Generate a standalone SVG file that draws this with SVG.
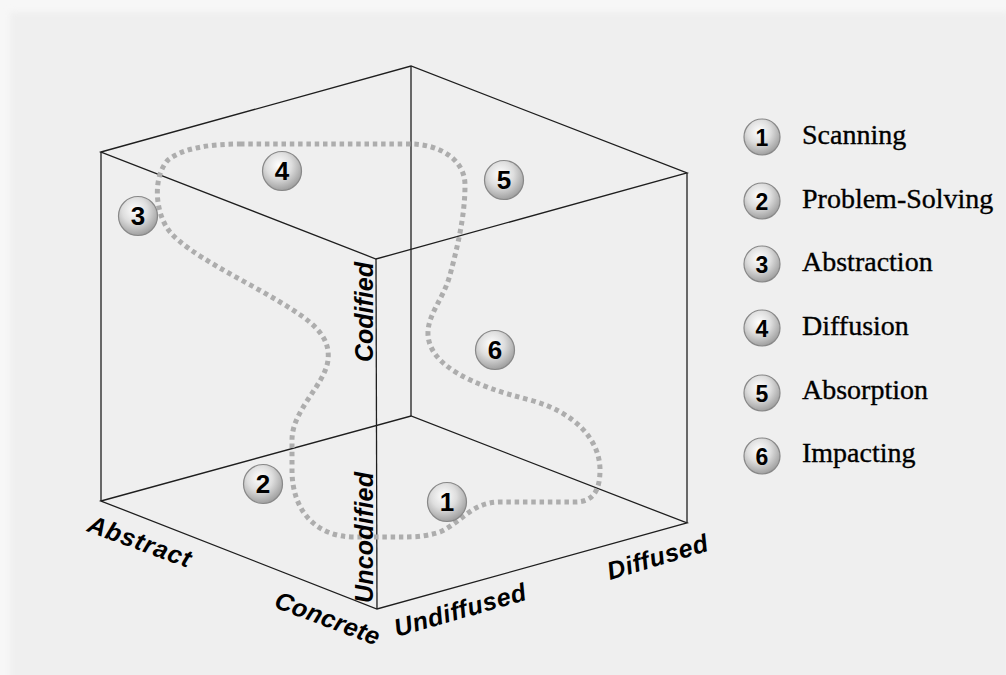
<svg xmlns="http://www.w3.org/2000/svg" width="1006" height="675" viewBox="0 0 1006 675">
  <defs>
    <radialGradient id="ball" cx="0.42" cy="0.35" r="0.65">
      <stop offset="0" stop-color="#ffffff"/>
      <stop offset="0.5" stop-color="#dedede"/>
      <stop offset="1" stop-color="#a0a0a0"/>
    </radialGradient>
    <filter id="soft" x="-5%" y="-5%" width="110%" height="110%">
      <feGaussianBlur stdDeviation="3"/>
    </filter>
  </defs>
  <style>
    .edge { stroke: #1e1e1e; stroke-width: 1.3; fill: none; }
    .loop { stroke: #adadad; stroke-width: 5; fill: none; stroke-dasharray: 4.5 3.8; }
    .ball { fill: url(#ball); stroke: #888888; stroke-width: 1.2; }
    .num { font-family: "Liberation Sans", Arial, sans-serif; font-weight: bold; fill: #000; text-anchor: middle; }
    .axis { font-family: "Liberation Sans", Arial, sans-serif; font-weight: bold; font-style: italic; font-size: 25px; fill: #000; }
    .legend { font-family: "Liberation Serif", "Times New Roman", serif; font-size: 28px; fill: #000; stroke: #000; stroke-width: 0.35; }
  </style>

  <!-- backdrop with a soft panel edge -->
  <rect x="0" y="0" width="1006" height="675" fill="#f7f7f7"/>
  <rect x="10" y="12" width="1000" height="680" fill="#efefef" filter="url(#soft)"/>

  <!-- cube edges -->
  <g id="connectors">
    <g id="cube">
      <polygon class="edge" points="101,152 411,66 687,173 376,259"/>
      <polygon class="edge" points="101,501 411,416 687,523 377,609"/>
      <line class="edge" x1="101" y1="152" x2="101" y2="501"/>
      <line class="edge" x1="411" y1="66" x2="411" y2="416"/>
      <line class="edge" x1="687" y1="173" x2="687" y2="523"/>
      <line class="edge" x1="376" y1="259" x2="377" y2="609"/>
    </g>
    <!-- dotted learning cycle boundary -->
    <path id="cycle" class="loop" d="M 240 144 L 410 144 C 440 144 465 160 465 185 C 465 215 458 245 450 275 C 443 300 427 315 428 335 C 430 365 470 385 530 400 C 575 412 600 440 600 470 C 600 492 592 502 575 502 L 500 502 C 472 502 462 522 440 532 C 425 537 412 537 400 537 L 355 537 C 315 537 292 510 292 470 L 292 440 C 292 410 325 385 328 360 C 331 335 310 320 280 302 C 240 278 190 255 170 232 C 154 212 153 176 168 160 C 183 148 210 144 240 144 Z"/>
  </g>

  <!-- axis labels -->
  <g id="axes">
    <text class="axis" transform="translate(86,531) rotate(20)" textLength="108" lengthAdjust="spacing">Abstract</text>
    <text class="axis" transform="translate(273,607) rotate(20.5)" textLength="110" lengthAdjust="spacing">Concrete</text>
    <text class="axis" transform="translate(397,637) rotate(-16)" textLength="136" lengthAdjust="spacing">Undiffused</text>
    <text class="axis" transform="translate(610,580) rotate(-16.5)" textLength="104" lengthAdjust="spacing">Diffused</text>
    <text class="axis" transform="translate(373,362) rotate(-90)" textLength="100" lengthAdjust="spacing">Codified</text>
    <text class="axis" transform="translate(373,603) rotate(-90)" textLength="131" lengthAdjust="spacing">Uncodified</text>
  </g>

  <!-- numbered stages inside the cube -->
  <g id="stage-1"><circle class="ball" cx="447" cy="502" r="19.5"/><text class="num" x="447" y="511" font-size="26">1</text></g>
  <g id="stage-2"><circle class="ball" cx="263" cy="484" r="19.5"/><text class="num" x="263" y="493" font-size="26">2</text></g>
  <g id="stage-3"><circle class="ball" cx="138" cy="216" r="19.5"/><text class="num" x="138" y="225" font-size="26">3</text></g>
  <g id="stage-4"><circle class="ball" cx="282" cy="171" r="19.5"/><text class="num" x="282" y="180" font-size="26">4</text></g>
  <g id="stage-5"><circle class="ball" cx="504" cy="180" r="19.5"/><text class="num" x="504" y="189" font-size="26">5</text></g>
  <g id="stage-6"><circle class="ball" cx="495" cy="350" r="19.5"/><text class="num" x="495" y="359" font-size="26">6</text></g>

  <!-- legend -->
  <g id="legend">
    <g id="legend-1"><circle class="ball" cx="762" cy="137" r="18"/><text class="num" x="762" y="145.5" font-size="23">1</text><text class="legend" x="802" y="144">Scanning</text></g>
    <g id="legend-2"><circle class="ball" cx="762" cy="201" r="18"/><text class="num" x="762" y="209.5" font-size="23">2</text><text class="legend" x="802" y="208">Problem-Solving</text></g>
    <g id="legend-3"><circle class="ball" cx="762" cy="264" r="18"/><text class="num" x="762" y="272.5" font-size="23">3</text><text class="legend" x="802" y="271">Abstraction</text></g>
    <g id="legend-4"><circle class="ball" cx="762" cy="328" r="18"/><text class="num" x="762" y="336.5" font-size="23">4</text><text class="legend" x="802" y="335">Diffusion</text></g>
    <g id="legend-5"><circle class="ball" cx="762" cy="393" r="18"/><text class="num" x="762" y="401.5" font-size="23">5</text><text class="legend" x="802" y="399">Absorption</text></g>
    <g id="legend-6"><circle class="ball" cx="762" cy="456" r="18"/><text class="num" x="762" y="464.5" font-size="23">6</text><text class="legend" x="802" y="462">Impacting</text></g>
  </g>
</svg>
